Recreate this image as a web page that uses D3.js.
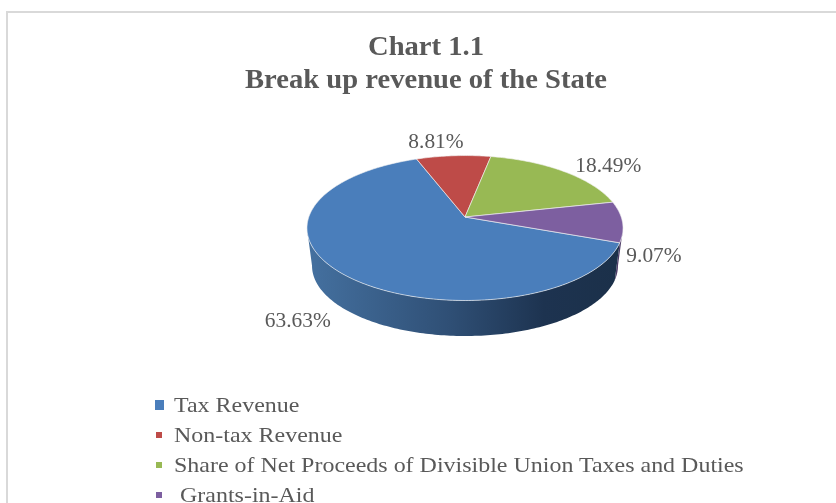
<!DOCTYPE html>
<html>
<head>
<meta charset="utf-8">
<script src="https://cdn.jsdelivr.net/npm/d3@7"></script>
<style>
  html, body { margin: 0; padding: 0; background: #fff; overflow: hidden; }
  text { font-family: "Liberation Serif", serif; fill: #595959; }
  svg { filter: blur(0.4px); }
</style>
</head>
<body>
<svg id="chart"></svg>
<script>
// --- Data ---
const categories = ["Tax Revenue", "Non-tax Revenue", "Share of Net Proceeds of Divisible Union Taxes and Duties", "Grants-in-Aid"];
const shares = [63.63, 8.81, 18.49, 9.07];
const colors = ["#4a7ebb", "#be4b48", "#98b954", "#7d5fa0"];
const titleLines = ["Chart 1.1", "Break up revenue of the State"];

// label nudges from the rim of each slice (dx, dy)
const labelNudge = [[-44, 54], [-17.5, -8], [45, 1], [31.5, 40]];

const width = 836, height = 503;
// the reference is a screenshot stretched sideways, so the text is too
const titleStretch = 1.06, labelStretch = 1.07, legendStretch = 1.09;

const svg = d3.select("#chart").attr("width", width).attr("height", height)
    .style("display", "block");

// --- Frame ---
svg.append("path")
    .attr("d", `M7,${height} V12 H${width}`)
    .attr("fill", "none")
    .attr("stroke", "#d9d9d9")
    .attr("stroke-width", 2);

// --- Title ---
svg.append("g").selectAll("text")
    .data(titleLines)
    .join("text")
    .attr("transform", (d, i) => `translate(426,${55 + i * 33}) scale(${titleStretch},1)`)
    .attr("text-anchor", "middle")
    .style("font-size", "27px")
    .style("font-weight", "bold")
    .text(d => d);

// --- Tilted pie: circle seen in perspective ---
const cx = 465, apexY = 217, depth = 0.152, rimA = 156.2, rimB = 70.8;
const sideY = 38.2, sideScale = 0.968;

function project(angle) {
    const X = Math.sin(angle), Y = -Math.cos(angle);
    const w = 1 - depth * Y;
    return [cx + rimA * X / w, apexY + rimB * Y / w];
}
function projectBottom(angle) {
    const [x, y] = project(angle);
    return [cx + (x - cx) * sideScale, apexY + sideY + (y - apexY) * sideScale];
}

const deg = Math.PI / 180;
const pie = d3.pie().sort(null).value(d => d)
    .startAngle(110.2 * deg).endAngle(470.2 * deg);
const slices = pie(shares);
const line = d3.line();

function samples(a0, a1) {
    const n = Math.max(2, Math.ceil((a1 - a0) / (1 * deg)));
    return d3.range(n + 1).map(i => a0 + (a1 - a0) * i / n);
}

// --- Side wall ---
const defs = svg.append("defs");
const grad = defs.append("linearGradient")
    .attr("id", "wall")
    .attr("gradientUnits", "userSpaceOnUse")
    .attr("x1", 310).attr("x2", 622).attr("y1", 0).attr("y2", 0);
grad.append("stop").attr("offset", 0).attr("stop-color", "#44709f");
grad.append("stop").attr("offset", 0.45).attr("stop-color", "#2f4f75");
grad.append("stop").attr("offset", 0.75).attr("stop-color", "#1d3350");
grad.append("stop").attr("offset", 1).attr("stop-color", "#1b3049");

// the wall is visible between the two outermost points of the rim
const blueStart = slices[0].startAngle;

function wallPath(a0, a1) {
    const top = samples(a0, a1).map(project);
    const bottom = samples(a0, a1).map(projectBottom).reverse();
    return line(top.concat(bottom)) + "Z";
}
svg.append("path")
    .attr("d", wallPath(Math.PI / 2 + Math.asin(depth), blueStart))
    .attr("fill", "#4f3d68");
svg.append("path")
    .attr("d", wallPath(blueStart, 3 * Math.PI / 2 - Math.asin(depth)))
    .attr("fill", "url(#wall)");

// --- Top face ---
svg.append("g").selectAll("path")
    .data(slices)
    .join("path")
    .attr("d", d => line([[cx, apexY]].concat(samples(d.startAngle, d.endAngle).map(project))) + "Z")
    .attr("fill", (d, i) => colors[i])
    .attr("stroke", "#f2f2f2")
    .attr("stroke-opacity", 0.8)
    .attr("stroke-width", 0.8)
    .attr("stroke-linejoin", "round");

// --- Data labels ---
svg.append("g").selectAll("text")
    .data(slices)
    .join("text")
    .attr("transform", (d, i) => {
        const [x, y] = project((d.startAngle + d.endAngle) / 2);
        return `translate(${x + labelNudge[i][0]},${y + labelNudge[i][1]}) scale(${labelStretch},1)`;
    })
    .attr("text-anchor", "middle")
    .style("font-size", "20px")
    .text(d => d.value.toFixed(2) + "%");

// --- Legend ---
const legendRow = d3.scalePoint().domain(d3.range(categories.length)).range([412, 502]);
const legend = svg.append("g").selectAll("g")
    .data(categories)
    .join("g")
    .attr("transform", (d, i) => `translate(0,${legendRow(i)})`);
legend.append("rect")
    .attr("x", (d, i) => i === 0 ? 155 : 156)
    .attr("y", (d, i) => i === 0 ? -12 : -10)
    .attr("width", (d, i) => i === 0 ? 9 : 6)
    .attr("height", (d, i) => i === 0 ? 10 : 6)
    .attr("fill", (d, i) => colors[i]);
legend.append("text")
    .attr("transform", (d, i) => `translate(${i === 3 ? 180 : 174},0) scale(${legendStretch},1)`)
    .style("font-size", "22px")
    .text(d => d);
</script>
</body>
</html>
